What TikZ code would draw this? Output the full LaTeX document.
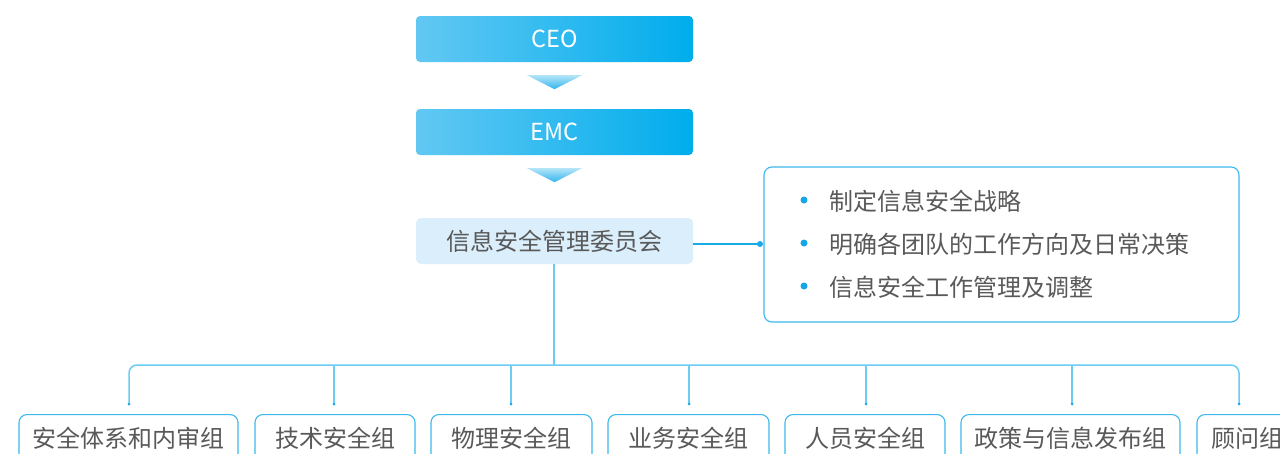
\documentclass[tikz,border=0pt]{standalone}
\usepackage{fontspec}
\setmainfont{Noto Sans CJK SC}
\usetikzlibrary{calc}
\definecolor{boxL}{HTML}{62C8F3}
\definecolor{boxR}{HTML}{00ADEC}
\definecolor{triT}{HTML}{B4E4F8}
\definecolor{triB}{HTML}{30B6EE}
\definecolor{txtgray}{HTML}{595959}
\definecolor{comfill}{HTML}{DAEEFB}
\definecolor{busc}{HTML}{6CCDF4}
\definecolor{linkc}{HTML}{19AAE8}
\definecolor{borderc}{HTML}{3DB8EC}
\definecolor{dotc}{HTML}{14A6E6}
\tikzset{
  x=1pt, y=1pt,
  cjk/.style={font=\fontsize{24}{27}\selectfont},
  topbox/.style={rectangle, rounded corners=4pt, minimum width=277pt, minimum height=46pt, left color=boxL, right color=boxR, draw=none, text=white, font=\fontsize{23.5}{26}\selectfont, inner sep=0pt},
  combox/.style={rectangle, rounded corners=5pt, minimum width=277pt, minimum height=46pt, fill=comfill, draw=none, text=txtgray, cjk, inner sep=0pt},
  groupbox/.style={rectangle, rounded corners=8pt, minimum height=70pt, draw=borderc, line width=1.1pt, inner sep=0pt, anchor=north},
  grouplabel/.style={text=txtgray, cjk, inner sep=0pt},
  busline/.style={draw=busc, line width=1.5pt},
  linkline/.style={draw=linkc, line width=1.5pt},
  enddot/.style={circle, fill=linkc, inner sep=0pt, minimum size=3pt},
  bullet/.style={circle, fill=dotc, inner sep=0pt, minimum size=7pt},
  itemtext/.style={anchor=west, text=txtgray, cjk, inner sep=0pt},
  tri/.style={top color=triT, bottom color=triB, draw=none}
}
\begin{document}
\begin{tikzpicture}
\clip (0,0) rectangle (1280,-453);
\fill[white] (0,0) rectangle (1280,-453);
% top boxes
\node[topbox] (ceo) at (554.5,-39) {CEO};
\node[topbox] (emc) at (554.5,-132) {EMC};
\node[combox] (com) at (554.5,-241) {信息安全管理委员会};
% triangles
\coordinate (t1a) at ($(ceo.south)+(-27.5,-13)$);
\coordinate (t1b) at ($(ceo.south)+(27.5,-13)$);
\coordinate (t1c) at ($(ceo.south)+(0,-27)$);
\shade[tri] (t1a) -- (t1b) -- (t1c) -- cycle;
\coordinate (t2a) at ($(emc.south)+(-27.5,-13)$);
\coordinate (t2b) at ($(emc.south)+(27.5,-13)$);
\coordinate (t2c) at ($(emc.south)+(0,-27)$);
\shade[tri] (t2a) -- (t2b) -- (t2c) -- cycle;
% bullet box
\node[rectangle, rounded corners=8pt, draw=borderc, line width=1.1pt, minimum width=475pt, minimum height=155pt, inner sep=0pt] (info) at (1001.5,-244.5) {};
\node[bullet] (b1) at (804,-200) {};
\node[bullet] (b2) at (804,-243) {};
\node[bullet] (b3) at (804,-286) {};
\node[itemtext] (i1) at (829,-201) {制定信息安全战略};
\node[itemtext] (i2) at (829,-244) {明确各团队的工作方向及日常决策};
\node[itemtext] (i3) at (829,-287) {信息安全工作管理及调整};
\coordinate (lk) at (com.east |- 0,-244);
\coordinate (lkend) at (760,-244);
\draw[linkline] (lk) -- (lkend);
\node[enddot, minimum size=6pt] at (lkend) {};
% bottom group boxes
\node[groupbox, minimum width=219pt] (g1) at (128.5,-414) {};
\node[groupbox, minimum width=160pt] (g2) at (335,-414) {};
\node[groupbox, minimum width=161pt] (g3) at (511.5,-414) {};
\node[groupbox, minimum width=161pt] (g4) at (688.5,-414) {};
\node[groupbox, minimum width=160pt] (g5) at (865,-414) {};
\node[groupbox, minimum width=219pt] (g6) at (1070.5,-414) {};
\node[groupbox, minimum width=160pt] (g7) at (1277,-414) {};
\node[grouplabel] (l1) at (128.5,-438) {安全体系和内审组};
\node[grouplabel] (l2) at (335,-438) {技术安全组};
\node[grouplabel] (l3) at (511.5,-438) {物理安全组};
\node[grouplabel] (l4) at (688.5,-438) {业务安全组};
\node[grouplabel] (l5) at (865,-438) {人员安全组};
\node[grouplabel] (l6) at (1070.5,-438) {政策与信息发布组};
\node[grouplabel, anchor=west] (l7) at (1211,-438) {顾问组};
% bus
\coordinate (bus) at (554,-365);
\coordinate (d1) at (129,-404);
\coordinate (d2) at (334,-404);
\coordinate (d3) at (511,-404);
\coordinate (d4) at (689,-404);
\coordinate (d5) at (866,-404);
\coordinate (d6) at (1072,-404);
\coordinate (d7) at (1239,-404);
\draw[busline] (com.south -| bus) -- (bus);
\draw[busline, rounded corners=8pt] (d1) -- (d1 |- bus) -- (d7 |- bus) -- (d7);
\foreach \d in {d2,d3,d4,d5,d6} { \draw[busline] (\d |- bus) -- (\d); }
\foreach \d in {d1,d2,d3,d4,d5,d6,d7} { \node[enddot] at (\d) {}; }
\end{tikzpicture}
\end{document}
